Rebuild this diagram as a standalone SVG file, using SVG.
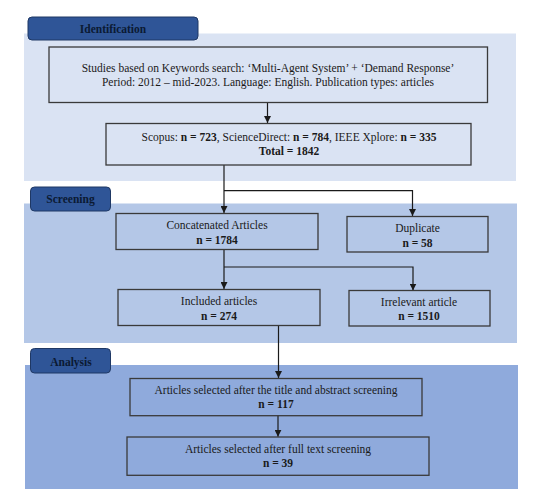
<svg xmlns="http://www.w3.org/2000/svg" width="555" height="503" viewBox="0 0 555 503">
<style>
.bg{fill:#ffffff}
.tab{fill:#2f5597;stroke:#1f3864;stroke-width:1}
.tabt{font-family:"Liberation Serif",serif;font-size:11.5px;font-weight:bold;fill:#0b1a33;text-anchor:middle}
.box{fill:none;stroke:#3a3a3a;stroke-width:1.3}
.t{font-family:"Liberation Serif",serif;font-size:11.5px;fill:#1a1a1a;text-anchor:middle}
.b{font-weight:bold}
.ln{fill:none;stroke:#1a1a1a;stroke-width:1.2}
</style>
<defs>
<marker id="ah" viewBox="0 0 10 10" refX="10" refY="5" markerWidth="7" markerHeight="7" markerUnits="userSpaceOnUse" orient="auto">
<path d="M0,0 L10,5 L0,10 z" fill="#1a1a1a"/>
</marker>
</defs>
<rect class="bg" x="0" y="0" width="555" height="503"/>
<!-- panels -->
<g id="panel-identification">
<rect x="24" y="33.5" width="492" height="147.5" fill="#dae3f3"/>
</g>
<g id="panel-screening">
<rect x="24" y="203.5" width="493" height="139.5" fill="#b4c7e7"/>
</g>
<g id="panel-analysis">
<rect x="25" y="365" width="493" height="124" fill="#8faadc"/>
</g>
<!-- tabs -->
<g id="tab-identification">
<rect class="tab" x="28" y="17" width="170" height="23" rx="4"/>
<text class="tabt" x="113" y="33">Identification</text>
</g>
<g id="tab-screening">
<rect class="tab" x="30.5" y="187" width="80" height="24" rx="4"/>
<text class="tabt" x="70.5" y="203">Screening</text>
</g>
<g id="tab-analysis">
<rect class="tab" x="30.5" y="348.5" width="80" height="24.5" rx="4"/>
<text class="tabt" x="71" y="365.5">Analysis</text>
</g>
<!-- connectors -->
<g id="connectors">
<line class="ln" x1="267.5" y1="102.5" x2="267.5" y2="123" marker-end="url(#ah)"/>
<line class="ln" x1="224" y1="165" x2="224" y2="213" marker-end="url(#ah)"/>
<polyline class="ln" points="224,190.7 412.5,190.7 412.5,216" marker-end="url(#ah)"/>
<line class="ln" x1="224" y1="249.5" x2="224" y2="289" marker-end="url(#ah)"/>
<polyline class="ln" points="224,267 413,267 413,290.5" marker-end="url(#ah)"/>
<line class="ln" x1="278.5" y1="325.5" x2="278.5" y2="378" marker-end="url(#ah)"/>
<line class="ln" x1="278" y1="415.7" x2="278" y2="436.7" marker-end="url(#ah)"/>
</g>
<!-- nodes -->
<g id="node-search">
<rect class="box" x="49" y="47" width="438.5" height="55.5"/>
<text class="t" x="268" y="71.5">Studies based on Keywords search: ‘Multi-Agent System’ + ‘Demand Response’</text>
<text class="t" x="268" y="85.5">Period: 2012 – mid-2023. Language: English. Publication types: articles</text>
</g>
<g id="node-databases">
<rect class="box" x="106" y="123.5" width="365" height="41.5"/>
<text class="t" x="289" y="141">Scopus: <tspan class="b">n = 723</tspan>, ScienceDirect: <tspan class="b">n = 784</tspan>, IEEE Xplore: <tspan class="b">n = 335</tspan></text>
<text class="t b" x="289" y="155">Total = 1842</text>
</g>
<g id="node-concatenated">
<rect class="box" x="116" y="213.5" width="202" height="36"/>
<text class="t" x="217" y="229">Concatenated Articles</text>
<text class="t b" x="217" y="244">n = 1784</text>
</g>
<g id="node-duplicate">
<rect class="box" x="347" y="216.5" width="141" height="35.5"/>
<text class="t" x="417.5" y="232">Duplicate</text>
<text class="t b" x="417.5" y="246.5">n = 58</text>
</g>
<g id="node-included">
<rect class="box" x="118" y="289.5" width="202" height="36"/>
<text class="t" x="219" y="304.5">Included articles</text>
<text class="t b" x="219" y="320">n = 274</text>
</g>
<g id="node-irrelevant">
<rect class="box" x="349" y="290.5" width="141" height="35.5"/>
<text class="t" x="419" y="306">Irrelevant article</text>
<text class="t b" x="419" y="320">n = 1510</text>
</g>
<g id="node-title-abstract">
<rect class="box" x="130" y="378.5" width="292" height="37.2"/>
<text class="t" x="276" y="394">Articles selected after the title and abstract screening</text>
<text class="t b" x="276" y="407.5">n = 117</text>
</g>
<g id="node-fulltext">
<rect class="box" x="127" y="437" width="302" height="38.3"/>
<text class="t" x="278" y="453">Articles selected after full text screening</text>
<text class="t b" x="278" y="467">n = 39</text>
</g>
</svg>
